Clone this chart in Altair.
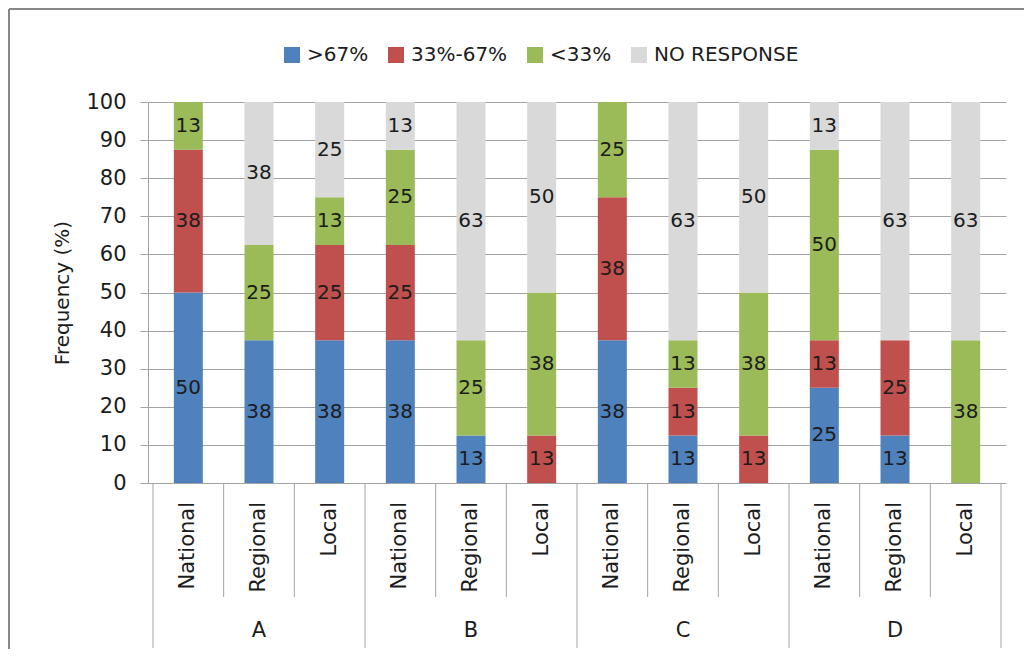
import altair as alt
import pandas as pd

groups = ["A", "B", "C", "D"]
levels = ["National", "Regional", "Local"]
series = [">67%", "33%-67%", "<33%", "NO RESPONSE"]
colors = ["#4F81BD", "#C0504D", "#9BBB59", "#D9D9D9"]

# One value per bar, ordered A-National, A-Regional, A-Local, B-National ... D-Local
high = [50, 37.5, 37.5, 37.5, 12.5, 0, 37.5, 12.5, 0, 25, 12.5, 0]
medium = [37.5, 0, 25, 25, 0, 12.5, 37.5, 12.5, 12.5, 12.5, 25, 0]
low = [12.5, 25, 12.5, 25, 25, 37.5, 25, 12.5, 37.5, 50, 0, 37.5]
no_response = [0, 37.5, 25, 12.5, 62.5, 50, 0, 62.5, 50, 12.5, 62.5, 62.5]
y_ticks = [0, 10, 20, 30, 40, 50, 60, 70, 80, 90, 100]

FONT = "DejaVu Sans"
INK = "#1c1c1c"
LINE = "#A3A3A3"

rows = []
for k, vals in enumerate([high, medium, low, no_response]):
    for i, v in enumerate(vals):
        rows.append({"pos": i, "series": series[k], "order": k, "value": v})
data = pd.DataFrame(rows)

bars_df = pd.DataFrame({
    "pos": list(range(len(groups) * len(levels))),
    "level": [lv for _ in groups for lv in levels],
})
groups_df = pd.DataFrame({"gi": list(range(len(groups))), "group": groups})
n = len(levels)
bounds = list(range(len(groups) * n + 1))
minor_df = pd.DataFrame({"b": [b for b in bounds if b % n != 0]})
major_df = pd.DataFrame({"b": [b for b in bounds if b % n == 0]})

W, H = 858, 381
xscale = alt.Scale(domain=[0, len(bars_df)], nice=False, zero=False)
yscale = alt.Scale(domain=[0, 100], nice=False)
yaxis = alt.Axis(
    values=y_ticks,
    labelOverlap=False,
    grid=True,
    gridColor=LINE,
    domainColor=LINE,
    tickColor=LINE,
    tickSize=8,
    labelFont=FONT,
    labelFontSize=21,
    labelColor=INK,
    labelPadding=14,
    title="Frequency (%)",
    titleFont=FONT,
    titleFontSize=20,
    titleFontWeight="normal",
    titleColor=INK,
    titleX=-86,
    titleY=H / 2,
    titleAlign="center",
    titleBaseline="middle",
)

bars = alt.Chart(data).transform_calculate(
    center="datum.pos + 0.5"
).mark_bar(size=29).encode(
    x=alt.X("center:Q", scale=xscale, axis=None),
    y=alt.Y("value:Q", stack="zero", scale=yscale, axis=yaxis),
    color=alt.Color(
        "series:N",
        scale=alt.Scale(domain=series, range=colors),
        legend=alt.Legend(
            orient="none",
            legendX=134,
            legendY=-57,
            direction="horizontal",
            columns=4,
            title=None,
            symbolType="square",
            symbolSize=256,
            symbolStrokeWidth=0,
            labelFont=FONT,
            labelFontSize=20,
            labelColor=INK,
            labelOffset=5,
            columnPadding=17,
        ),
    ),
    order=alt.Order("order:Q", sort="ascending"),
)

values = alt.Chart(data).transform_stack(
    stack="value", groupby=["pos"], sort=[alt.SortField("order", order="ascending")],
    as_=["y0", "y1"],
).transform_filter("datum.value > 0").transform_calculate(
    center="datum.pos + 0.5", mid="(datum.y0 + datum.y1) / 2"
).mark_text(font=FONT, fontSize=20, color=INK, baseline="middle").encode(
    x=alt.X("center:Q", scale=xscale, axis=None),
    y=alt.Y("mid:Q", scale=yscale, axis=yaxis),
    text=alt.Text("value:Q", format=".0f"),
)

# Two-level category axis: short separators between bars, long ones between groups
minor_rules = alt.Chart(minor_df).mark_rule(color=LINE, strokeWidth=1).encode(
    x=alt.X("b:Q", scale=xscale, axis=None), y=alt.value(H), y2=alt.value(H + 114)
)
major_rules = alt.Chart(major_df).mark_rule(color=LINE, strokeWidth=1).encode(
    x=alt.X("b:Q", scale=xscale, axis=None), y=alt.value(H), y2=alt.value(H + 165)
)

level_labels = alt.Chart(bars_df).transform_calculate(
    center="datum.pos + 0.5"
).mark_text(font=FONT, fontSize=21, color=INK, angle=270, align="right", baseline="middle").encode(
    x=alt.X("center:Q", scale=xscale, axis=None), y=alt.value(H + 19), text="level:N"
)

group_labels = alt.Chart(groups_df).transform_calculate(
    center=f"datum.gi * {n} + {n / 2}"
).mark_text(font=FONT, fontSize=21, color=INK, baseline="middle").encode(
    x=alt.X("center:Q", scale=xscale, axis=None), y=alt.value(H + 148), text="group:N"
)

# Chart-area border (top and left edges)
one = pd.DataFrame({"k": [0]})
frame_top = alt.Chart(one).mark_rule(color="#878787", strokeWidth=2).encode(
    x=alt.value(-139), x2=alt.value(W + 40), y=alt.value(-93)
)
frame_left = alt.Chart(one).mark_rule(color="#878787", strokeWidth=2).encode(
    x=alt.value(-139), y=alt.value(-93), y2=alt.value(H + 200)
)

chart = alt.layer(
    frame_top, frame_left, bars, values, minor_rules, major_rules, level_labels, group_labels
).properties(
    width=W,
    height=H,
    autosize=alt.AutoSizeParams(type="none"),
    padding={"left": 148, "top": 102, "right": 18, "bottom": 166},
    background="white",
).configure_view(strokeWidth=0)

chart.save("out.html", embed_options={"renderer": "svg", "actions": False})
